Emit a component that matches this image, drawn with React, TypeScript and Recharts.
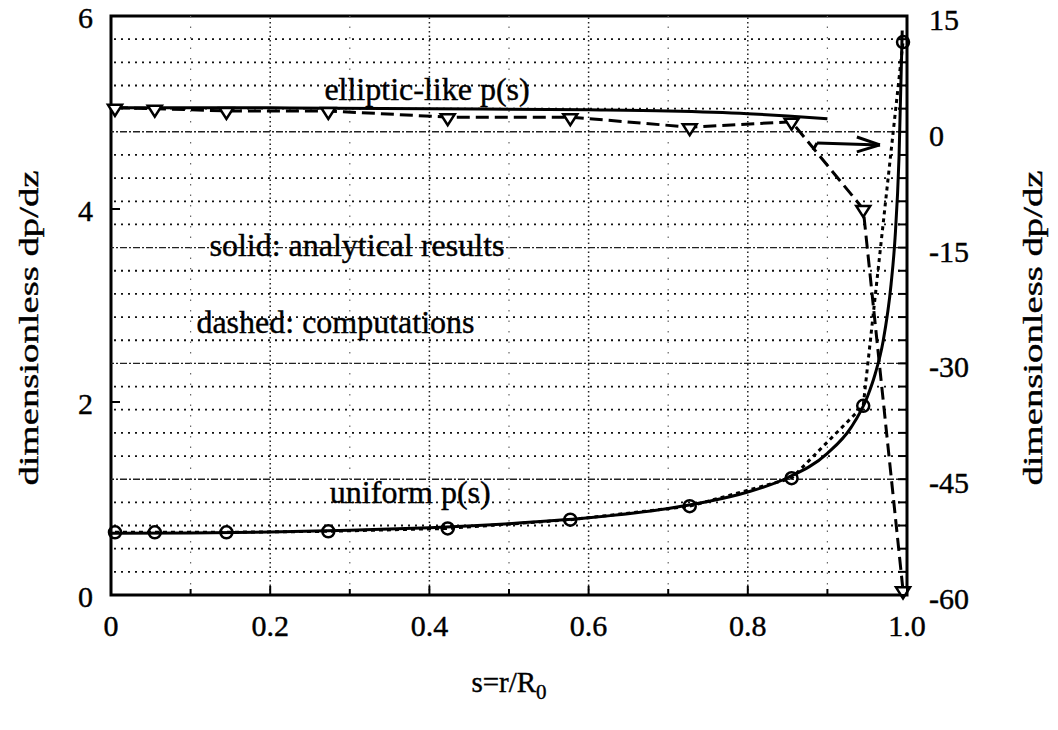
import React from 'react';
import { LineChart, Line, XAxis, YAxis, ReferenceLine, ReferenceArea, ReferenceDot } from 'recharts';

// computation nodes (same s for both cases)
const sNodes = [0.005, 0.055, 0.145, 0.273, 0.423, 0.577, 0.727, 0.855, 0.945, 0.995];
// elliptic-like p(s), computed, read on the right axis
const ellipticComputed = [3.1, 3.0, 2.7, 2.7, 1.9, 1.9, 0.6, 1.3, -10.0, -59.4];
// uniform p(s), computed, left axis
const uniformComputed = [0.65, 0.65, 0.65, 0.66, 0.69, 0.78, 0.92, 1.21, 1.96, 5.73];

// analytical curves
const ellipticS = [0, 0.2, 0.4, 0.6, 0.7, 0.8, 0.85, 0.9];
const ellipticExact = [3.1, 3.1, 3.0, 2.85, 2.7, 2.35, 2.05, 1.7];
const uniformS = [0, 0.1, 0.2, 0.3, 0.4, 0.5, 0.6, 0.7, 0.75, 0.8, 0.85, 0.9, 0.93, 0.95, 0.96, 0.97, 0.98, 0.985, 0.99, 0.994];
const uniformExact = [0.64, 0.643, 0.653, 0.671, 0.698, 0.739, 0.8, 0.896, 0.968, 1.067, 1.215, 1.468, 1.74, 2.05, 2.29, 2.63, 3.22, 3.7, 4.54, 5.85];

const xTicks = [0, 0.1, 0.2, 0.3, 0.4, 0.5, 0.6, 0.7, 0.8, 0.9, 1.0];
const xMajor = [0.2, 0.4, 0.6, 0.8];
const xMinor = [0.1, 0.3, 0.5, 0.7, 0.9];
const leftTicks = [0, 2, 4, 6];
const rightLabels = [15, 0, -15, -30, -45, -60];
const rightTicks: number[] = [];
for (let v = 15; v >= -60; v -= 3) rightTicks.push(v);

const notes = [
  { text: 'elliptic-like p(s)', s: 0.397, v: 5.25 },
  { text: 'solid: analytical results', s: 0.309, v: 3.63 },
  { text: 'dashed: computations', s: 0.282, v: 2.83 },
  { text: 'uniform p(s)', s: 0.376, v: 1.07 },
];

// arrow pointing to the right axis (right-axis units)
const arrowPath = [
  [{ x: 0.882, y: -2.35 }, { x: 0.887, y: -1.45 }],
  [{ x: 0.887, y: -1.45 }, { x: 0.966, y: -1.7 }],
  [{ x: 0.937, y: -0.67 }, { x: 0.966, y: -1.7 }],
  [{ x: 0.937, y: -2.6 }, { x: 0.966, y: -1.7 }],
];

const FONT = 'Liberation Serif, Times New Roman, serif';

const ellipticCompData = sNodes.map((s, i) => ({ s, v: ellipticComputed[i] }));
const uniformCompData = sNodes.map((s, i) => ({ s, v: uniformComputed[i] }));
const ellipticExactData = ellipticS.map((s, i) => ({ s, v: ellipticExact[i] }));
const uniformExactData = uniformS.map((s, i) => ({ s, v: uniformExact[i] }));

const textStyle = { fontFamily: FONT, fill: '#000', stroke: '#000', strokeWidth: 0.4 };

const XTick = (props: any) => {
  const { x, y, payload } = props;
  const v = payload.value;
  const major = xMajor.includes(v) || v === 0 || v === 1;
  return (
    <g>
      <line x1={x} x2={x} y1={y} y2={y - (major ? 9 : 6)} stroke="#000" strokeWidth={2} />
      {major && (
        <text x={x} y={y + 41} textAnchor="middle" fontSize={30} style={textStyle}>
          {v === 0 ? '0' : v.toFixed(1)}
        </text>
      )}
    </g>
  );
};

const LeftTick = (props: any) => {
  const { x, y, payload } = props;
  return (
    <g>
      <line x1={x} x2={x + 9} y1={y} y2={y} stroke="#000" strokeWidth={2} />
      <text x={x - 18} y={y + 12} textAnchor="end" fontSize={30} style={textStyle}>
        {payload.value}
      </text>
    </g>
  );
};

const RightTick = (props: any) => {
  const { x, y, payload } = props;
  const v = payload.value;
  return (
    <g>
      <line x1={x} x2={x - 9} y1={y} y2={y} stroke="#000" strokeWidth={2} />
      {rightLabels.includes(v) && (
        <text x={x + 22} y={y + 14} textAnchor="start" fontSize={30} style={textStyle}>
          {v}
        </text>
      )}
    </g>
  );
};

const Triangle = (props: any) => {
  const { cx, cy, index } = props;
  return (
    <path
      key={`t-${index}`}
      d={`M${cx - 7},${cy - 3} L${cx + 7},${cy - 3} L${cx},${cy + 8} Z`}
      fill="#fff"
      stroke="#000"
      strokeWidth={2.5}
    />
  );
};

const Circle = (props: any) => {
  const { cx, cy, index } = props;
  return <circle key={`c-${index}`} cx={cx} cy={cy} r={6} fill="none" stroke="#000" strokeWidth={2.5} />;
};

const SideLabel = ({ cx, cy }: { cx: number; cy: number }) => (
  <text
    x={cx}
    y={cy}
    transform={`rotate(-90 ${cx} ${cy})`}
    textAnchor="middle"
    dominantBaseline="central"
    fontSize={28}
    textLength={315}
    lengthAdjust="spacingAndGlyphs"
    style={textStyle}
  >
    dimensionless dp/dz
  </text>
);

const LeftLabel = () => <SideLabel cx={20} cy={328} />;
const RightLabel = () => <SideLabel cx={1024} cy={328} />;

const XLabel = (props: any) => {
  const { viewBox } = props;
  const cx = viewBox.x + viewBox.width / 2;
  return (
    <text x={cx} y={692} textAnchor="middle" fontSize={29} style={textStyle}>
      s=r/R
      <tspan fontSize={21} dy={7}>0</tspan>
    </text>
  );
};

export default function App() {
  return (
    <div style={{ fontFamily: FONT, marginTop: -8 }}>
      <LineChart width={1042} height={722} margin={{ top: 16, right: 0, bottom: 87, left: 0 }}>
        <XAxis
          dataKey="s"
          type="number"
          domain={[0, 1]}
          ticks={xTicks}
          tick={<XTick />}
          tickSize={0}
          tickMargin={0}
          tickLine={false}
          axisLine={false}
          height={40}
          allowDuplicatedCategory={false}
          label={{ content: <XLabel /> }}
        />
        <YAxis
          yAxisId="left"
          domain={[0, 6]}
          ticks={leftTicks}
          tick={<LeftTick />}
          tickSize={0}
          tickMargin={0}
          tickLine={false}
          axisLine={false}
          width={103}
          label={{ content: <LeftLabel /> }}
        />
        <YAxis
          yAxisId="right"
          orientation="right"
          domain={[-60, 15]}
          ticks={rightTicks}
          tick={<RightTick />}
          tickSize={0}
          tickMargin={0}
          tickLine={false}
          axisLine={false}
          width={143}
          interval={0}
          label={{ content: <RightLabel /> }}
        />

        {rightTicks
          .filter((v) => v < 15 && v > -60)
          .map((v) =>
            rightLabels.includes(v) ? (
              <ReferenceLine key={`h${v}`} yAxisId="right" y={v} stroke="#222" strokeWidth={1.4} strokeDasharray="7 2 2 2" />
            ) : (
              <ReferenceLine key={`h${v}`} yAxisId="right" y={v} stroke="#111" strokeWidth={1.8} strokeDasharray="2 5" />
            )
          )}
        {xMajor.map((v) => (
          <ReferenceLine key={`vM${v}`} yAxisId="left" x={v} stroke="#222" strokeWidth={1.5} strokeDasharray="1.5 3" />
        ))}
        {xMinor.map((v) => (
          <ReferenceLine key={`vm${v}`} yAxisId="left" x={v} stroke="#666" strokeWidth={1.2} strokeDasharray="1.5 9" />
        ))}

        <ReferenceArea yAxisId="left" x1={0} x2={1} y1={0} y2={6} fill="none" fillOpacity={0} stroke="#000" strokeWidth={3} />

        {notes.map((n) => (
          <ReferenceDot
            key={n.text}
            yAxisId="left"
            x={n.s}
            y={n.v}
            r={0}
            fill="none"
            stroke="none"
            label={{ value: n.text, position: 'center', fontSize: 32, fontFamily: FONT, fill: '#000', stroke: '#000', strokeWidth: 0.4 }}
          />
        ))}

        {arrowPath.map((seg, i) => (
          <ReferenceLine key={`a${i}`} yAxisId="right" segment={seg} stroke="#000" strokeWidth={3} />
        ))}

        <Line
          yAxisId="left"
          data={uniformExactData}
          dataKey="v"
          type="monotone"
          stroke="#000"
          strokeWidth={3}
          dot={false}
          isAnimationActive={false}
        />
        <Line
          yAxisId="left"
          data={uniformCompData}
          dataKey="v"
          type="linear"
          stroke="#000"
          strokeWidth={3}
          strokeDasharray="4 4"
          dot={<Circle />}
          isAnimationActive={false}
        />
        <Line
          yAxisId="right"
          data={ellipticExactData}
          dataKey="v"
          type="monotone"
          stroke="#000"
          strokeWidth={3}
          dot={false}
          isAnimationActive={false}
        />
        <Line
          yAxisId="right"
          data={ellipticCompData}
          dataKey="v"
          type="linear"
          stroke="#000"
          strokeWidth={3}
          strokeDasharray="13 6"
          dot={<Triangle />}
          isAnimationActive={false}
        />
      </LineChart>
    </div>
  );
}
